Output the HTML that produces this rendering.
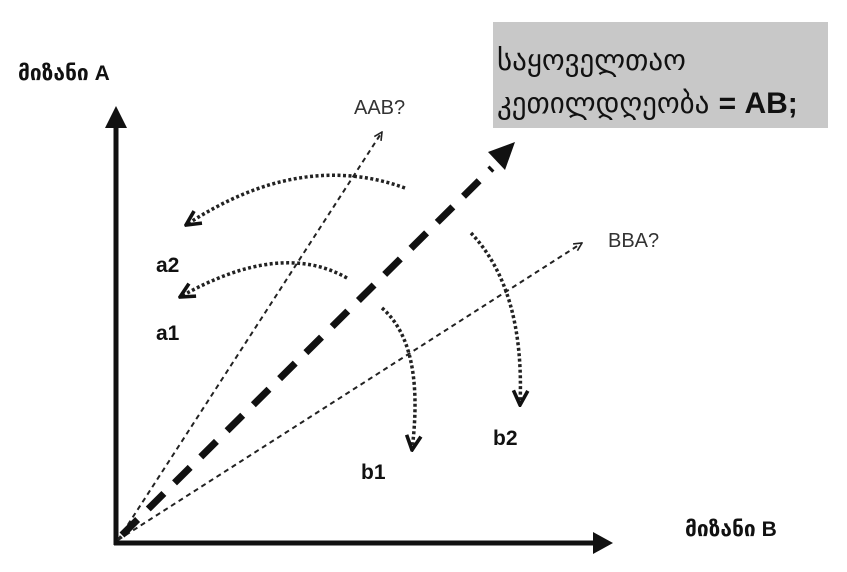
<!DOCTYPE html>
<html><head><meta charset="utf-8"><style>
body{margin:0;background:#fff;width:847px;height:567px;overflow:hidden;font-family:"Liberation Sans",sans-serif}
</style></head><body>
<svg width="847" height="567" xmlns="http://www.w3.org/2000/svg">
<defs>
<marker id="o" viewBox="0 0 10 10" refX="9" refY="5" markerWidth="10" markerHeight="10" orient="auto-start-reverse" markerUnits="userSpaceOnUse"><path d="M1,1 L9,5 L1,9" fill="none" stroke="#222" stroke-width="1.6"/></marker>
<marker id="o2" viewBox="0 0 10 10" refX="9" refY="5" markerWidth="18" markerHeight="18" orient="auto" markerUnits="userSpaceOnUse"><path d="M1,1 L9,5 L1,9" fill="none" stroke="#111" stroke-width="2"/></marker>
</defs>
<rect x="493" y="22" width="335" height="106" fill="#c8c8c8"/>
<text x="497" y="70" font-family="DejaVu Sans, sans-serif" font-size="29" fill="#111">საყოველთაო</text>
<text x="497" y="113" font-family="DejaVu Sans, sans-serif" font-size="29" fill="#111">კეთილდღეობა <tspan font-family="Liberation Sans" font-weight="bold" font-size="30">= AB;</tspan></text>
<line x1="116" y1="545" x2="116" y2="125" stroke="#111" stroke-width="5"/>
<polygon points="105,128 116,106 127,128" fill="#111"/>
<line x1="114" y1="543" x2="595" y2="543" stroke="#111" stroke-width="5"/>
<polygon points="593,532 613,543 593,554" fill="#111"/>
<text x="18" y="80" font-size="21" font-weight="bold" fill="#111"><tspan font-family="DejaVu Sans" font-weight="bold">მიზანი</tspan> A</text>
<text x="685" y="536" font-size="21" font-weight="bold" fill="#111"><tspan font-family="DejaVu Sans" font-weight="bold">მიზანი</tspan> B</text>
<line x1="118" y1="540" x2="382" y2="132" stroke="#222" stroke-width="2" stroke-dasharray="5,4" marker-end="url(#o)"/>
<line x1="118" y1="540" x2="582" y2="243" stroke="#222" stroke-width="2" stroke-dasharray="5,4" marker-end="url(#o)"/>
<line x1="122" y1="535" x2="492" y2="168" stroke="#111" stroke-width="7" stroke-dasharray="22,15"/>
<polygon points="488,152 515,142 505,170" fill="#111"/>
<path d="M405,188 Q300,150 186,225" fill="none" stroke="#222" stroke-width="3.5" stroke-dasharray="3,2.5" marker-end="url(#o2)"/>
<path d="M347,278 Q280,240 180,297" fill="none" stroke="#222" stroke-width="3.5" stroke-dasharray="3,2.5" marker-end="url(#o2)"/>
<path d="M382,308 Q425,345 412,450" fill="none" stroke="#222" stroke-width="3.5" stroke-dasharray="3,2.5" marker-end="url(#o2)"/>
<path d="M471,233 Q525,290 520,405" fill="none" stroke="#222" stroke-width="3.5" stroke-dasharray="3,2.5" marker-end="url(#o2)"/>
<text x="354" y="114" font-size="20" fill="#333">AAB?</text>
<text x="608" y="247" font-size="20" fill="#333">BBA?</text>
<text x="156" y="272" font-size="21" font-weight="bold" fill="#111">a2</text>
<text x="156" y="340" font-size="21" font-weight="bold" fill="#111">a1</text>
<text x="361" y="479" font-size="21" font-weight="bold" fill="#111">b1</text>
<text x="493" y="445" font-size="21" font-weight="bold" fill="#111">b2</text>
</svg>
</body></html>
